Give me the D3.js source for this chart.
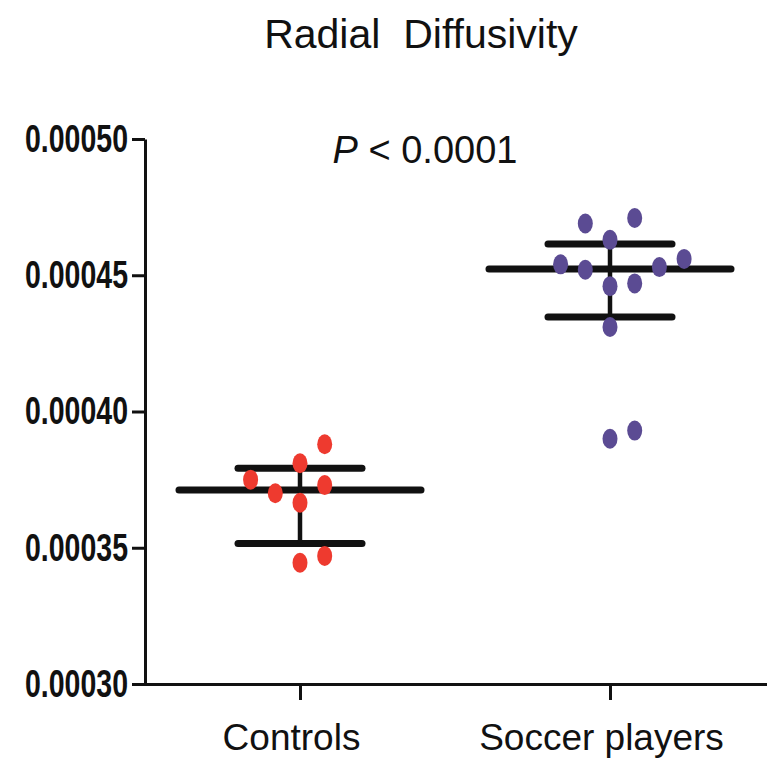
<!DOCTYPE html>
<meta charset="utf-8">
<style>
body { margin: 0; background: #fff; }
text { font-family: "Liberation Sans", Arial, sans-serif; fill: #111; }
.axis path, .axis line { stroke: #111; stroke-width: 3px; }
</style>
<svg width="767" height="763"></svg>
<script src="https://d3js.org/d3.v7.min.js"></script>
<script>

// values
var groups = ["Controls", "Soccer players"];
var controls = [0.000388, 0.000381, 0.000375, 0.000373, 0.000370, 0.0003665, 0.000347, 0.0003445];
var controlsSlot = [1, 0, -2, 1, -1, 0, 1, 0];   // column in the scatter
var soccer = [0.000469, 0.000471, 0.000463, 0.000454, 0.000452, 0.000453, 0.000456, 0.000446, 0.000447, 0.000431, 0.000390, 0.000393];
var soccerSlot = [-1, 1, 0, -2, -1, 2, 3, 0, 1, 0, 0, 1];
var means = [0.0003712, 0.0004523];
var sdLow = [0.0003516, 0.0004347];
var sdHigh = [0.0003792, 0.0004615];
var yTicks = [0.0003, 0.00035, 0.0004, 0.00045, 0.0005];
var colors = ["#ee3a2f", "#5b4b93"];

var svg = d3.select("svg");

var x = d3.scalePoint()
    .domain(groups)
    .range([145, 765])
    .padding(0.5);

var y = d3.scaleLinear()
    .domain([0.0003, 0.0005])
    .range([684, 139]);

// axes
var yAxis = svg.append("g")
    .attr("class", "axis")
    .attr("transform", "translate(145,0)")
    .call(d3.axisLeft(y).tickValues(yTicks).tickFormat(d3.format(".5f"))
      .tickSize(13).tickSizeOuter(0).tickPadding(4));
yAxis.selectAll("text")
    .style("font-size", "39px")
    .style("font-weight", "bold")
    .attr("textLength", 103)
    .attr("lengthAdjust", "spacingAndGlyphs");

var xAxis = svg.append("g")
    .attr("class", "axis")
    .attr("transform", "translate(0,684)")
    .call(d3.axisBottom(x).tickSize(16).tickSizeOuter(0).tickPadding(24));
xAxis.selectAll("text")
    .attr("dx", -9)
    .style("font-size", "37px");
xAxis.selectAll(".domain").attr("stroke-linecap", "square");

// mean and SD bars
var step = 24.7;
var stats = groups.map(function(g, i) {
  return { g: g, mean: means[i], lo: sdLow[i], hi: sdHigh[i] };
});
var bars = svg.append("g")
    .attr("stroke", "#111")
    .attr("stroke-width", 7)
    .attr("stroke-linecap", "round");
bars.selectAll(".mean").data(stats).enter().append("line")
    .attr("x1", function(d) { return x(d.g) - 121; })
    .attr("x2", function(d) { return x(d.g) + 121; })
    .attr("y1", function(d) { return y(d.mean); })
    .attr("y2", function(d) { return y(d.mean); });
bars.selectAll(".hi").data(stats).enter().append("line")
    .attr("x1", function(d) { return x(d.g) - 62; })
    .attr("x2", function(d) { return x(d.g) + 62; })
    .attr("y1", function(d) { return y(d.hi); })
    .attr("y2", function(d) { return y(d.hi); });
bars.selectAll(".lo").data(stats).enter().append("line")
    .attr("x1", function(d) { return x(d.g) - 62; })
    .attr("x2", function(d) { return x(d.g) + 62; })
    .attr("y1", function(d) { return y(d.lo); })
    .attr("y2", function(d) { return y(d.lo); });
bars.selectAll(".vert").data(stats).enter().append("line")
    .attr("stroke-width", 4.5)
    .attr("stroke-linecap", "butt")
    .attr("x1", function(d) { return x(d.g); })
    .attr("x2", function(d) { return x(d.g); })
    .attr("y1", function(d) { return y(d.hi); })
    .attr("y2", function(d) { return y(d.lo); });

// dots
var points = [];
controls.forEach(function(v, i) { points.push({ g: 0, v: v, s: controlsSlot[i] }); });
soccer.forEach(function(v, i) { points.push({ g: 1, v: v, s: soccerSlot[i] }); });

svg.append("g").selectAll("ellipse")
    .data(points)
  .enter().append("ellipse")
    .attr("cx", function(d) { return x(groups[d.g]) + d.s * step; })
    .attr("cy", function(d) { return y(d.v); })
    .attr("rx", 7.5)
    .attr("ry", 10)
    .attr("fill", function(d) { return colors[d.g]; });

// titles
svg.append("text")
    .attr("x", 421)
    .attr("y", 48)
    .attr("text-anchor", "middle")
    .style("font-size", "41px")
    .text("Radial  Diffusivity")
    .style("white-space", "pre");

var p = svg.append("text")
    .attr("x", 425)
    .attr("y", 163)
    .attr("text-anchor", "middle")
    .style("font-size", "38px");
p.append("tspan").style("font-style", "italic").text("P");
p.append("tspan").text(" < 0.0001");

</script>
